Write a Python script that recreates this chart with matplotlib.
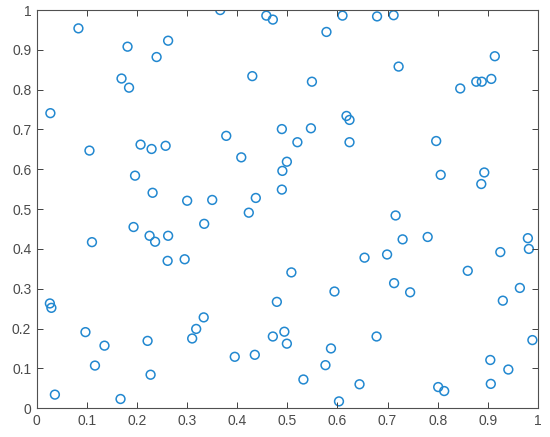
import matplotlib
matplotlib.use('Agg')
import numpy as np
from matplotlib import pyplot as plt
from matplotlib.ticker import FuncFormatter

# points
x = [0.083, 0.181, 0.262, 0.239, 0.169, 0.184, 0.027, 0.105, 0.207, 0.229,
     0.257, 0.196, 0.231, 0.300, 0.366, 0.458, 0.471, 0.610, 0.679, 0.712,
     0.578, 0.430, 0.549, 0.618, 0.624, 0.489, 0.547, 0.378, 0.520, 0.624,
     0.408, 0.499, 0.490, 0.489, 0.350, 0.437, 0.423, 0.722, 0.914, 0.877,
     0.888, 0.907, 0.845, 0.797, 0.806, 0.893, 0.887, 0.716, 0.193, 0.110,
     0.225, 0.236, 0.262, 0.261, 0.295, 0.026, 0.029, 0.097, 0.135, 0.221,
     0.116, 0.227, 0.036, 0.167, 0.318, 0.310, 0.334, 0.654, 0.508, 0.594,
     0.479, 0.333, 0.494, 0.471, 0.499, 0.678, 0.395, 0.435, 0.587, 0.576,
     0.532, 0.644, 0.603, 0.730, 0.780, 0.699, 0.980, 0.982, 0.925, 0.860,
     0.713, 0.745, 0.964, 0.930, 0.989, 0.905, 0.941, 0.906, 0.801, 0.813]
y = [0.954, 0.908, 0.923, 0.882, 0.828, 0.805, 0.741, 0.647, 0.662, 0.651,
     0.659, 0.584, 0.541, 0.521, 1.000, 0.986, 0.976, 0.986, 0.984, 0.987,
     0.945, 0.834, 0.820, 0.734, 0.724, 0.701, 0.703, 0.684, 0.668, 0.668,
     0.630, 0.619, 0.596, 0.549, 0.523, 0.528, 0.491, 0.858, 0.884, 0.820,
     0.820, 0.827, 0.803, 0.671, 0.586, 0.592, 0.563, 0.484, 0.455, 0.417,
     0.433, 0.418, 0.433, 0.370, 0.374, 0.263, 0.252, 0.191, 0.157, 0.169,
     0.107, 0.084, 0.034, 0.023, 0.199, 0.175, 0.463, 0.378, 0.341, 0.293,
     0.267, 0.228, 0.192, 0.180, 0.162, 0.180, 0.129, 0.134, 0.150, 0.108,
     0.072, 0.060, 0.017, 0.424, 0.430, 0.386, 0.427, 0.400, 0.392, 0.345,
     0.314, 0.291, 0.302, 0.270, 0.171, 0.121, 0.097, 0.061, 0.053, 0.043]

ticks = np.round(np.arange(0, 1.01, 0.1), 1)

plt.rcParams['font.family'] = ['Liberation Sans', 'DejaVu Sans']

fig = plt.figure(figsize=(5.5, 4.37), dpi=100)
ax = fig.add_axes([0.067, 0.066, 0.911, 0.911])
ax.scatter(x, y, s=40, facecolors='none', edgecolors='#2288d0', linewidths=1.1)

ax.set_xlim(0, 1)
ax.set_ylim(0, 1)
ax.set_xticks(ticks)
ax.set_yticks(ticks)
fmt = FuncFormatter(lambda v, p: '%g' % v)
ax.xaxis.set_major_formatter(fmt)
ax.yaxis.set_major_formatter(fmt)
ax.tick_params(direction='in', top=True, right=True, length=4, width=0.7,
               color='#404040', labelcolor='#4a4a4a', labelsize=10, pad=4)
for s in ax.spines.values():
    s.set_color('#505050')
    s.set_linewidth(0.8)

fig.savefig('out.png', dpi=100)
